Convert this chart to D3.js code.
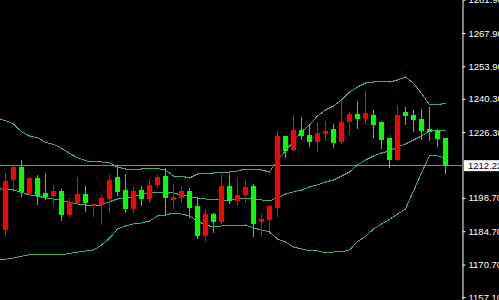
<!DOCTYPE html>
<meta charset="utf-8">
<title>Candles with Bollinger Bands</title>
<style>
    body {
        margin: 0;
        background: #000;
    }

    svg {
        display: block;
    }

    .axis text {
        fill: #fff;
        font-family: "Liberation Sans", Arial, sans-serif;
        font-size: 9.5px;
    }

    .axis line,
    .axis path {
        stroke: #fff;
    }

    .band {
        fill: none;
        stroke: #3cb371;
        stroke-width: 1px;
        shape-rendering: crispEdges;
    }
</style>

<body>
    <div id="my_chart"></div>
    <script src="https://d3js.org/d3.v7.min.js"></script>
    <script>

        // candles, oldest first
        var opens = [1185.35, 1206.33, 1211.66, 1200.45, 1207.04, 1200.75, 1199.49, 1201.59, 1191.51, 1196.55,
            1200.33, 1195.42, 1195.71, 1198.10, 1207.46, 1202.01, 1194.03, 1202.01, 1198.23, 1204.11,
            1207.88, 1197.81, 1198.65, 1201.59, 1195.29, 1182.70, 1191.93, 1188.58, 1203.69, 1197.52,
            1199.91, 1203.69, 1188.58, 1189.42, 1194.45, 1224.67, 1218.79, 1227.19, 1225.09, 1222.15,
            1225.51, 1227.61, 1222.15, 1230.55, 1233.90, 1231.80, 1233.48, 1230.55, 1223.83, 1214.60,
            1234.74, 1233.48, 1231.80, 1227.61, 1227.19, 1223.83];
        var highs = [1209.14, 1212.63, 1214.60, 1207.46, 1208.30, 1209.14, 1204.11, 1202.43, 1198.65, 1207.46,
            1203.69, 1196.13, 1199.91, 1208.72, 1212.50, 1208.72, 1203.27, 1203.69, 1206.62, 1208.72,
            1211.24, 1204.52, 1203.69, 1202.85, 1198.65, 1194.03, 1192.35, 1208.72, 1208.72, 1207.04,
            1206.20, 1204.52, 1191.93, 1195.29, 1226.77, 1224.67, 1233.48, 1232.64, 1229.71, 1230.55,
            1230.97, 1229.71, 1239.78, 1234.74, 1239.36, 1243.56, 1235.58, 1230.97, 1223.83, 1237.68,
            1236.84, 1235.58, 1236.00, 1236.84, 1227.61, 1223.83];
        var lows = [1183.25, 1202.97, 1199.62, 1200.20, 1196.26, 1198.23, 1195.84, 1189.54, 1190.68, 1196.30,
            1193.32, 1191.09, 1187.86, 1192.90, 1199.91, 1192.90, 1192.90, 1195.71, 1196.97, 1203.27,
            1191.93, 1194.45, 1196.97, 1190.68, 1181.86, 1180.60, 1184.38, 1188.20, 1196.55, 1195.71,
            1196.97, 1182.70, 1183.12, 1185.22, 1191.09, 1215.86, 1218.79, 1223.41, 1220.47, 1218.37,
            1222.99, 1220.05, 1221.73, 1225.51, 1228.03, 1230.13, 1224.25, 1219.63, 1211.66, 1214.60,
            1229.71, 1226.77, 1223.41, 1222.99, 1220.47, 1209.14];
        var closes = [1205.78, 1211.66, 1201.29, 1207.17, 1199.36, 1199.07, 1201.71, 1191.51, 1196.97, 1200.33,
            1196.42, 1196.13, 1198.65, 1206.20, 1201.17, 1194.03, 1201.59, 1198.23, 1204.11, 1207.46,
            1198.65, 1199.07, 1201.59, 1194.45, 1182.70, 1191.93, 1188.58, 1203.69, 1197.39, 1199.91,
            1203.27, 1187.74, 1189.84, 1195.29, 1224.67, 1218.37, 1227.19, 1224.67, 1222.15, 1225.93,
            1226.77, 1221.73, 1230.55, 1233.90, 1231.80, 1234.32, 1229.29, 1222.99, 1214.60, 1233.48,
            1233.06, 1231.39, 1226.77, 1226.35, 1223.41, 1212.22];

        // bollinger bands, first value belongs to the bar just off the left edge
        var upper = [1232.14, 1231.09, 1229.71, 1226.47, 1224.67, 1223.96, 1222.03, 1221.19, 1219.51, 1217.41, 1215.56,
            1214.30, 1213.76, 1213.76, 1213.46, 1211.66, 1210.82, 1210.82, 1210.82, 1211.11, 1211.03,
            1210.40, 1207.88, 1207.88, 1207.04, 1208.72, 1209.14, 1209.14, 1209.56, 1209.56, 1209.98,
            1210.82, 1210.82, 1210.40, 1209.56, 1214.60, 1218.37, 1222.57, 1226.47, 1229.29, 1233.06,
            1235.58, 1237.26, 1239.78, 1243.14, 1245.23, 1246.91, 1247.33, 1247.75, 1247.33, 1248.17,
            1249.43, 1246.79, 1242.59, 1237.81, 1237.68, 1238.52];
        var middle = [1202.59, 1202.30, 1202.01, 1201.04, 1199.91, 1199.36, 1198.78, 1198.23, 1197.68, 1196.84, 1196.13,
            1195.71, 1195.29, 1195.71, 1197.10, 1198.23, 1198.65, 1199.28, 1200.12, 1200.75, 1201.04,
            1201.04, 1200.75, 1199.91, 1199.28, 1198.65, 1198.23, 1198.02, 1197.81, 1197.60, 1198.44,
            1198.65, 1198.23, 1197.81, 1197.39, 1198.94, 1200.33, 1201.17, 1202.01, 1203.27, 1204.11,
            1205.36, 1206.20, 1207.88, 1209.56, 1212.50, 1214.60, 1216.28, 1217.54, 1218.37, 1220.05,
            1221.31, 1222.99, 1224.67, 1226.77, 1227.19, 1226.77];
        var lower = [1172.63, 1172.92, 1173.47, 1174.18, 1174.85, 1175.02, 1175.02, 1175.02, 1174.73, 1175.44, 1175.86,
            1176.41, 1176.83, 1178.92, 1181.74, 1185.64, 1186.90, 1187.74, 1188.16, 1189.00, 1191.09,
            1191.51, 1192.35, 1191.93, 1191.09, 1189.00, 1187.32, 1186.48, 1186.90, 1186.90, 1187.11,
            1187.32, 1186.06, 1185.22, 1184.38, 1181.44, 1180.18, 1178.08, 1177.25, 1176.41, 1176.41,
            1175.57, 1175.99, 1175.99, 1176.83, 1180.39, 1182.49, 1185.64, 1187.74, 1189.63, 1191.93,
            1194.03, 1201.59, 1209.14, 1216.40, 1216.28, 1215.44];

        // price axis labels
        var tickValues = [1157.10, 1170.70, 1184.70, 1198.70, 1226.30, 1240.30, 1253.90, 1267.90, 1281.90];
        var lastPrice = 1212.22;

        var width = 499, height = 300, axisX = 462;

        var x = d3.scaleLinear().domain([0, opens.length - 1]).range([5.5, 445.5]);
        var y = d3.scaleLinear().domain([1155.84, 1281.75]).range([height, 0]);

        var svg = d3.select("#my_chart")
            .append("svg")
            .attr("width", width)
            .attr("height", height);

        svg.append("rect")
            .attr("width", width)
            .attr("height", height)
            .attr("fill", "#000");

        // bid line
        var py = Math.round(y(lastPrice)) - 0.5;
        svg.append("line")
            .attr("x1", 0)
            .attr("x2", axisX)
            .attr("y1", py)
            .attr("y2", py)
            .attr("stroke", "#778899");

        // bands
        var bandLine = d3.line()
            .x(function (d, i) { return x(i - 1); })
            .y(function (d) { return y(d); });

        [upper, middle, lower].forEach(function (band) {
            svg.append("path")
                .datum(band)
                .attr("class", "band")
                .attr("d", bandLine);
        });

        // candles
        var bars = opens.map(function (o, i) {
            return { i: i, o: o, h: highs[i], l: lows[i], c: closes[i] };
        });

        var candle = svg.append("g")
            .selectAll("g")
            .data(bars)
            .enter().append("g");

        function colour(d) { return d.c > d.o ? "#ff0000" : "#00ff00"; }

        candle.append("line")
            .attr("x1", function (d) { return x(d.i); })
            .attr("x2", function (d) { return x(d.i); })
            .attr("y1", function (d) { return Math.round(y(d.h)); })
            .attr("y2", function (d) { return Math.round(y(d.l)) + 1; })
            .attr("stroke", colour)
            .attr("shape-rendering", "crispEdges");

        candle.append("rect")
            .attr("x", function (d) { return x(d.i) - 2.5; })
            .attr("width", 5)
            .attr("y", function (d) { return Math.round(y(Math.max(d.o, d.c))); })
            .attr("height", function (d) {
                return Math.max(1, Math.round(y(Math.min(d.o, d.c))) - Math.round(y(Math.max(d.o, d.c))));
            })
            .attr("fill", colour)
            .attr("shape-rendering", "crispEdges");

        // price axis
        svg.append("g")
            .attr("class", "axis")
            .attr("transform", "translate(" + (axisX + 0.5) + ",0)")
            .call(d3.axisRight(y)
                .tickValues(tickValues)
                .tickSize(3)
                .tickSizeOuter(0)
                .tickPadding(3)
                .tickFormat(d3.format(".2f")));

        // last price label
        var lbl = svg.append("g")
            .attr("class", "axis")
            .attr("transform", "translate(464," + y(lastPrice) + ")");
        lbl.append("rect")
            .attr("x", 0)
            .attr("y", -5.5)
            .attr("width", 40)
            .attr("height", 11)
            .attr("fill", "#fff");
        lbl.append("text")
            .attr("x", 4)
            .attr("dy", "0.32em")
            .style("fill", "#000")
            .text(d3.format(".2f")(lastPrice));

    </script>
</body>
